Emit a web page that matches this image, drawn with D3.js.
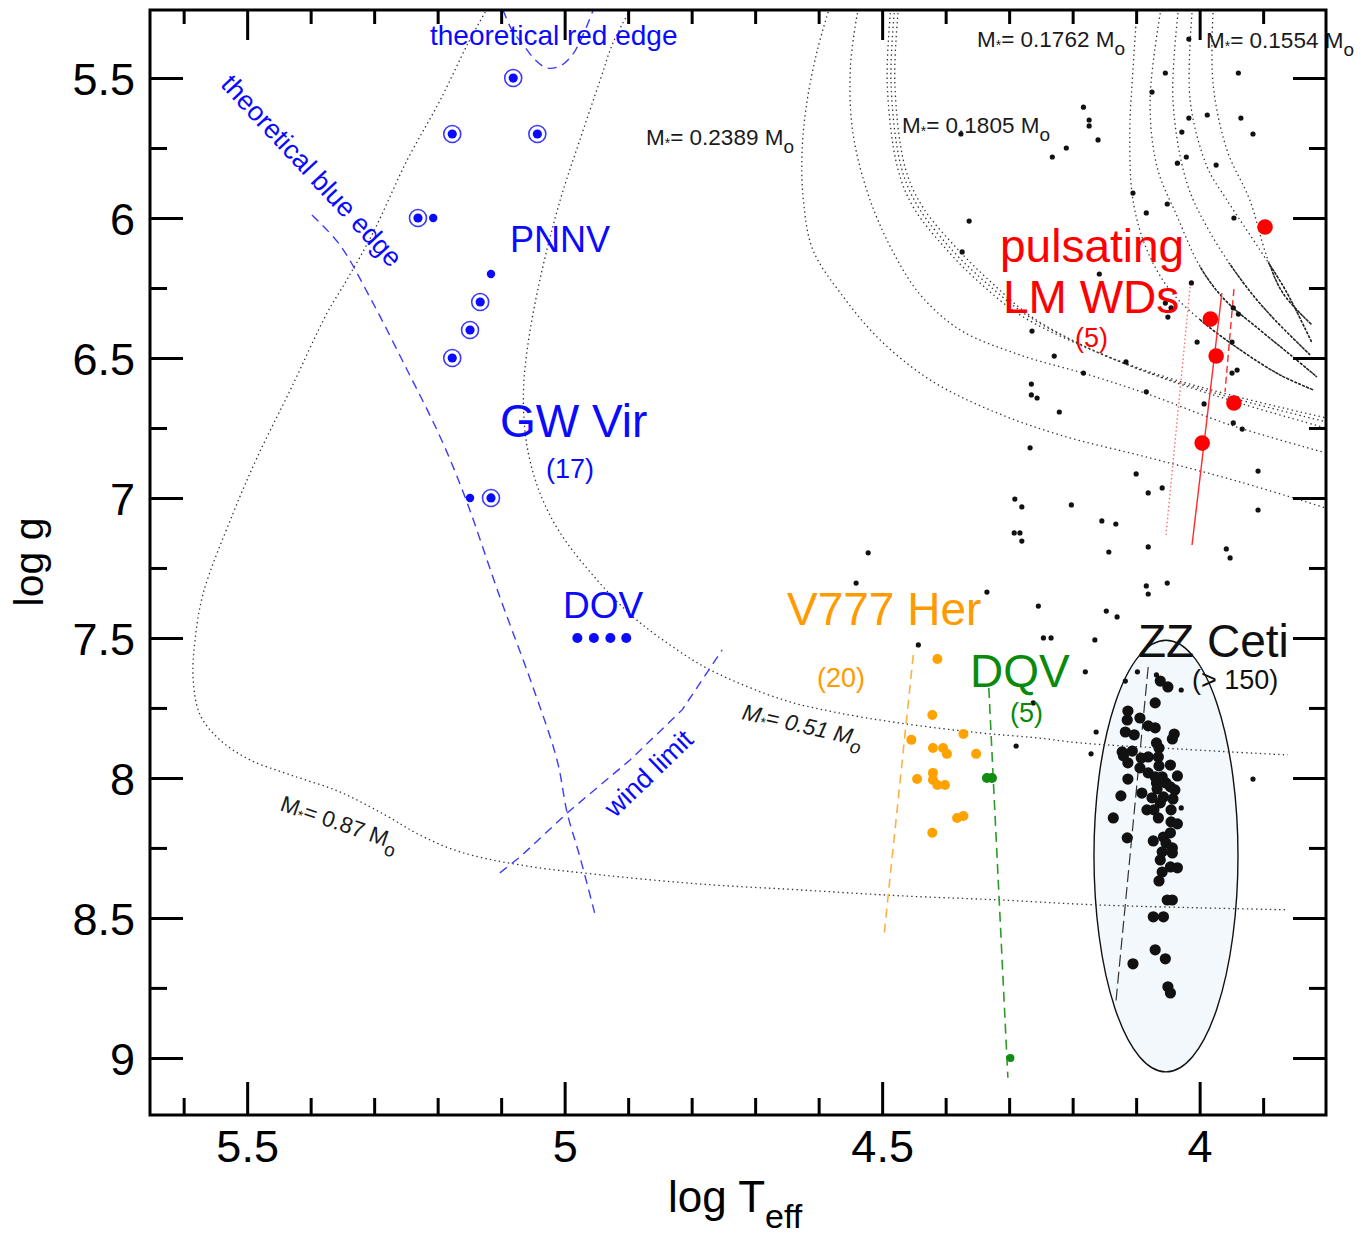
<!DOCTYPE html>
<html>
<head>
<meta charset="utf-8">
<script src="https://cdn.jsdelivr.net/npm/d3@7"></script>
<style>
  body { margin: 0; background: #fff; }
  svg { display: block; }
  text { font-family: "Liberation Sans", Arial, Helvetica, sans-serif; }
</style>
</head>
<body>
<svg id="chart" width="1364" height="1236"></svg>
<script>
// ---------- axes ----------
const xTicksMajor = [5.5, 5, 4.5, 4];
const xTickLabels = ["5.5", "5", "4.5", "4"];
const xTicksMinor = [5.6, 5.4, 5.3, 5.2, 5.1, 4.9, 4.8, 4.7, 4.6, 4.4, 4.3, 4.2, 4.1, 3.9];
const yTicksMajor = [5.5, 6, 6.5, 7, 7.5, 8, 8.5, 9];
const yTickLabels = ["5.5", "6", "6.5", "7", "7.5", "8", "8.5", "9"];
const yTicksMinor = [5.75, 6.25, 6.75, 7.25, 7.75, 8.25, 8.75];

// ---------- observed stars: [log Teff, log g] ----------
// GW Vir stars, PNNV with ring marker
const gwvirRinged = [[5.081,5.50],[5.177,5.70],[5.043,5.70],[5.231,6.00],[5.133,6.30],[5.149,6.40],[5.177,6.50],[5.116,7.00]];
const gwvirPlain = [[5.207,6.00],[5.116,6.20],[5.149,7.00]];
const dovStars = [[4.980,7.50],[4.954,7.50],[4.928,7.50],[4.903,7.50]];
// pulsating low-mass white dwarfs
const lmwdStars = [[3.897,6.032],[3.983,6.361],[3.974,6.493],[3.946,6.661],[3.996,6.804]];
// V777 Her (DBV)
const v777Stars = [[4.413,7.575],[4.421,7.775],[4.454,7.864],[4.372,7.843],[4.420,7.893],[4.404,7.893],[4.398,7.914],[4.352,7.914],
  [4.445,8.004],[4.420,7.982],[4.420,8.007],[4.413,8.025],[4.401,8.025],[4.382,8.143],[4.372,8.136],[4.421,8.196]];
// DQV
const dqvStars = [[4.335,8.00],[4.327,8.00],[4.298,9.00]];
// ZZ Ceti (DAV)
const zzcetiStars = [[4.062,7.654],[4.050,7.675],[4.070,7.732],[4.113,7.761],[4.094,7.786],[4.114,7.793],[4.081,7.814],[4.070,7.821],
  [4.117,7.836],[4.103,7.846],[4.040,7.843],[4.043,7.861],[4.068,7.875],[4.064,7.893],[4.122,7.907],[4.106,7.904],[4.120,7.921],
  [4.113,7.946],[4.092,7.929],[4.081,7.925],[4.065,7.925],[4.094,7.964],[4.064,7.957],[4.046,7.954],[4.081,7.982],[4.113,8.004],
  [4.070,7.996],[4.059,7.996],[4.035,7.993],[4.068,8.018],[4.053,8.018],[4.067,8.039],[4.046,8.032],[4.091,8.054],[4.039,8.043],
  [4.124,8.064],[4.075,8.071],[4.057,8.068],[4.042,8.075],[4.062,8.089],[4.083,8.114],[4.072,8.114],[4.045,8.114],[4.065,8.143],
  [4.136,8.143],[4.045,8.157],[4.035,8.164],[4.046,8.196],[4.057,8.211],[4.114,8.214],[4.073,8.225],[4.053,8.232],[4.043,8.250],
  [4.059,8.264],[4.043,8.268],[4.062,8.293],[4.046,8.318],[4.035,8.321],[4.059,8.336],[4.064,8.368],[4.051,8.436],[4.043,8.436],
  [4.073,8.496],[4.057,8.496],[4.070,8.614],[4.054,8.646],[4.105,8.664],[4.050,8.746],[4.046,8.768]];
// non-variable white dwarfs (small dots)
const otherStars = [[4.017,5.361],[4.054,5.482],[3.939,5.482],[4.075,5.550],[4.183,5.604],[4.174,5.650],[4.174,5.671],[4.017,5.643],
  [3.988,5.632],[3.935,5.643],[4.028,5.693],[3.916,5.700],[4.376,5.700],[4.160,5.721],[4.210,5.750],[4.232,5.782],[4.021,5.782],
  [4.035,5.804],[3.974,5.811],[4.105,5.911],[4.051,5.950],[4.084,5.982],[3.946,6.000],[4.363,6.011],[4.374,6.121],[4.158,6.200],
  [4.013,6.232],[4.054,6.304],[4.045,6.321],[4.050,6.354],[4.264,6.404],[4.004,6.443],[3.949,6.443],[3.947,6.321],[3.939,6.343],
  [4.229,6.493],[4.116,6.514],[4.183,6.554],[3.949,6.554],[3.941,6.543],[4.265,6.593],[4.084,6.621],[4.265,6.632],[4.256,6.643],
  [3.993,6.664],[4.221,6.693],[3.947,6.732],[3.933,6.754],[4.267,6.821],[4.100,6.914],[3.908,6.904],[4.059,6.964],[4.081,6.982],
  [4.291,7.004],[4.280,7.032],[4.202,7.025],[3.908,7.043],[4.154,7.082],[4.132,7.093],[4.292,7.125],[4.283,7.125],[4.280,7.154],
  [4.081,7.175],[3.958,7.182],[3.952,7.214],[4.143,7.193],[4.084,7.314],[4.081,7.343],[4.051,7.304],[4.335,7.336],[4.254,7.386],
  [4.147,7.404],[4.130,7.425],[4.246,7.500],[4.234,7.500],[4.522,7.196],[4.541,7.304],[4.443,7.525],[4.262,7.732],[4.289,7.886],
  [4.165,7.507],[4.180,7.621],[4.163,7.836],[4.171,7.914],[3.916,8.004],
  [4.098,7.621],[4.117,7.654],[4.068,7.632],[4.029,7.686],[4.029,8.107]];

// ---------- evolutionary tracks ----------
const track087 = [[5.125,5.264],[5.152,5.375],[5.196,5.579],[5.248,5.793],[5.302,6.054],[5.343,6.221],[5.374,6.339],[5.432,6.614],
  [5.484,6.854],[5.522,7.054],[5.569,7.339],[5.582,7.507],[5.585,7.650],[5.574,7.775],[5.543,7.864],[5.495,7.936],[5.432,7.989],
  [5.354,8.050],[5.283,8.132],[5.228,8.204],[5.165,8.264],[5.070,8.311],[4.944,8.346],[4.787,8.379],[4.629,8.400],[4.472,8.421],
  [4.314,8.436],[4.157,8.454],[3.999,8.464],[3.861,8.471]];
const track051 = [[4.897,5.257],[4.924,5.375],[4.944,5.507],[4.976,5.721],[5.007,5.936],[5.039,6.221],[5.059,6.471],[5.065,6.639],
  [5.059,6.818],[5.039,6.982],[5.007,7.125],[4.949,7.293],[4.892,7.425],[4.834,7.525],[4.771,7.614],[4.656,7.721],[4.577,7.764],
  [4.472,7.804],[4.346,7.839],[4.256,7.857],[4.188,7.875],[4.062,7.893],[3.861,7.918]];
const track02389 = [[4.585,5.264],[4.602,5.400],[4.618,5.579],[4.626,5.757],[4.624,5.936],[4.609,6.114],[4.561,6.282],[4.503,6.436],
  [4.424,6.579],[4.330,6.686],[4.220,6.775],[4.078,6.857],[3.936,6.943],[3.801,7.036]];
const track0210 = [[4.539,5.268],[4.550,5.461],[4.546,5.696],[4.519,5.936],[4.476,6.150],[4.437,6.282],[4.377,6.400],[4.283,6.489],
  [4.173,6.561],[4.078,6.632],[3.952,6.739],[3.801,6.839]];
const track01805a = [[4.487,5.268],[4.492,5.518],[4.476,5.818],[4.451,5.961],[4.398,6.114],[4.346,6.232],[4.283,6.346],[4.188,6.454],
  [4.078,6.550],[3.952,6.632],[3.801,6.714]];
const track01805b = [[4.481,5.268],[4.486,5.518],[4.470,5.818],[4.443,5.961],[4.390,6.114],[4.336,6.232],[4.273,6.346],[4.179,6.461],
  [4.069,6.561],[3.943,6.646],[3.801,6.728]];
const track01805c = [[4.475,5.268],[4.480,5.518],[4.464,5.818],[4.436,5.961],[4.380,6.114],[4.327,6.232],[4.264,6.354],[4.169,6.471],
  [4.059,6.571],[3.933,6.664],[3.801,6.750]];
const track01762 = [[4.099,5.268],[4.106,5.507],[4.110,5.696],[4.105,5.936],[4.083,6.114],[4.047,6.257],[3.999,6.364],[3.936,6.471],
  [3.873,6.561],[3.821,6.614]];
const track01706 = [[4.062,5.268],[4.078,5.579],[4.067,5.818],[4.035,5.996],[3.999,6.175],[3.960,6.293],[3.905,6.400],[3.857,6.489],
  [3.815,6.568]];
const track01612 = [[4.034,5.268],[4.042,5.579],[4.020,5.875],[3.983,6.054],[3.931,6.232],[3.889,6.346],[3.826,6.489]];
const track01554 = [[4.012,5.268],[4.015,5.579],[3.988,5.818],[3.957,5.936],[3.905,6.114],[3.865,6.257],[3.823,6.446]];
const track01505 = [[3.979,5.268],[3.979,5.518],[3.957,5.757],[3.921,5.936],[3.894,6.139],[3.869,6.268],[3.823,6.382]];

// ---------- instability boundaries ----------
const blueEdge = [[5.398,5.989],[5.354,6.096],[5.306,6.286],[5.248,6.543],[5.196,6.782],[5.157,6.996],[5.102,7.354],[5.050,7.675],
  [5.012,7.936],[4.996,8.125],[4.976,8.282],[4.952,8.489]];
const redEdge = [[5.097,5.257],[5.083,5.329],[5.065,5.382],[5.046,5.436],[5.028,5.464],[5.007,5.457],[4.988,5.418],[4.971,5.346],[4.955,5.257]];
const windLimit = [[5.102,8.339],[5.070,8.282],[4.996,8.125],[4.897,7.936],[4.815,7.757],[4.752,7.543]];
const lmwdEdgeSolid = [[3.965,6.268],[4.012,7.168]];
const lmwdEdgeDashed = [[3.946,6.254],[3.960,6.621]];
const lmwdEdgeDotted = [[4.015,6.246],[4.053,7.132]];
const dbvEdge = [[4.451,7.561],[4.497,8.561]];
const dqvEdge = [[4.332,7.679],[4.302,9.071]];
const zzcetiEdge = [[4.081,7.604],[4.132,8.804]];
// ZZ Ceti instability region: centre and semi-axes in (log Teff, log g)
const zzRegion = { teff: 4.053, logg: 8.279, dTeff: 0.1134, dLogg: 0.771 };

// ---------- layout ----------
const svg = d3.select("#chart");
const x = d3.scaleLinear().domain([5.653, 3.801]).range([150, 1326]);
const y = d3.scaleLinear().domain([5.257, 9.204]).range([10, 1115]);
const line = d3.line().x(d => x(d[0])).y(d => y(d[1]));
const curve = d3.line().x(d => x(d[0])).y(d => y(d[1])).curve(d3.curveCatmullRom.alpha(0.5));

const BLUE = "#0a0aff", BLUE_LINE = "#3a3aff", RED = "#ff0000", ORANGE = "#ff9a00", GREEN = "#0a8a0a";

// ZZ Ceti region
svg.append("ellipse")
  .attr("cx", x(zzRegion.teff)).attr("cy", y(zzRegion.logg))
  .attr("rx", Math.abs(x(zzRegion.teff - zzRegion.dTeff) - x(zzRegion.teff)))
  .attr("ry", Math.abs(y(zzRegion.logg + zzRegion.dLogg) - y(zzRegion.logg)))
  .attr("fill", "#f3f8fd").attr("stroke", "#111").attr("stroke-width", 1.4);

// evolutionary tracks (dotted)
const tracks = [track087, track051, track02389, track0210, track01805a, track01805b, track01805c,
  track01762, track01706, track01612, track01554, track01505];
svg.append("g").selectAll("path").data(tracks).join("path")
  .attr("d", curve).attr("fill", "none").attr("stroke", "#333")
  .attr("stroke-width", 1.3).attr("stroke-dasharray", "1.4 3.2");

// final cooling branches of the lowest-mass tracks are densely sampled: darker there
svg.append("clipPath").attr("id", "coolClip").append("rect")
  .attr("x", x(4.0)).attr("y", y(6.16)).attr("width", x(3.801) - x(4.0)).attr("height", y(6.62) - y(6.16));
svg.append("g").attr("clip-path", "url(#coolClip)").selectAll("path")
  .data([track01762, track01706, track01612, track01554, track01505]).join("path")
  .attr("d", curve).attr("fill", "none").attr("stroke", "#222")
  .attr("stroke-width", 1.5).attr("stroke-dasharray", "3 1.2");

// instability strip boundaries
function edge(data, color, dash, width) {
  svg.append("path").attr("d", curve(data)).attr("fill", "none")
    .attr("stroke", color).attr("stroke-width", width || 1.4)
    .attr("stroke-dasharray", dash || null);
}
edge(blueEdge, BLUE_LINE, "9 6");
edge(redEdge, BLUE_LINE, "9 6");
svg.append("path").attr("d", line(windLimit)).attr("fill", "none")
  .attr("stroke", BLUE_LINE).attr("stroke-width", 1.4).attr("stroke-dasharray", "9 6");
edge(lmwdEdgeSolid, "#ff2a2a", null, 1.4);
edge(lmwdEdgeDashed, "#ff2a2a", "7 4", 1.4);
edge(lmwdEdgeDotted, "#ff7070", "1.5 2.5", 1.4);
edge(dbvEdge, "#ffb040", "9 6", 1.6);
edge(dqvEdge, "#2a9a2a", "10 6", 1.6);
edge(zzcetiEdge, "#333", "12 5", 1.2);

// stars
function stars(data, r, color) {
  svg.append("g").selectAll("circle").data(data).join("circle")
    .attr("cx", d => x(d[0])).attr("cy", d => y(d[1])).attr("r", r).attr("fill", color);
}
stars(otherStars, 2.6, "#111");
svg.append("g").selectAll("circle").data(gwvirRinged).join("circle")
  .attr("cx", d => x(d[0])).attr("cy", d => y(d[1])).attr("r", 8.5)
  .attr("fill", "#fff").attr("stroke", BLUE_LINE).attr("stroke-width", 1.6);
stars(gwvirRinged, 4.6, BLUE);
stars(gwvirPlain, 4.2, BLUE);
stars(dovStars, 5, BLUE);
stars(v777Stars, 5, "#ffa200");
stars(dqvStars.slice(0, 2), 5, "#118c11");
stars(dqvStars.slice(2), 4, "#118c11");
stars(zzcetiStars, 5.6, "#111");
stars(lmwdStars, 7.8, RED);

// annotations
function label(txt, px, py, size, color, opts) {
  opts = opts || {};
  const t = svg.append("text").attr("font-size", size).attr("fill", color)
    .attr("text-anchor", opts.anchor || "start");
  if (opts.rotate !== undefined) t.attr("transform", `translate(${px},${py}) rotate(${opts.rotate})`);
  else t.attr("x", px).attr("y", py);
  if (opts.italic) t.attr("font-style", "italic");
  t.text(txt);
  return t;
}
label("theoretical red edge", 430, 45, 28, BLUE);
label("theoretical blue edge", 305, 177, 27, BLUE, { rotate: 47, anchor: "middle" });
label("PNNV", 510, 252, 36, BLUE);
label("GW Vir", 500, 437, 46, BLUE);
label("(17)", 546, 478, 27, BLUE);
label("DOV", 563, 618, 37, BLUE);
label("wind limit", 655, 780, 27, BLUE, { rotate: -44, anchor: "middle" });
label("V777 Her", 787, 625, 46, ORANGE);
label("(20)", 817, 687, 27, ORANGE);
label("DQV", 970, 687, 46, GREEN);
label("(5)", 1010, 722, 27, GREEN);
label("ZZ Ceti", 1138, 657, 46, "#111");
label("(> 150)", 1192, 689, 27, "#111");
label("pulsating", 1000, 262, 46, RED);
label("LM WDs", 1003, 313, 46, RED);
label("(5)", 1075, 347, 27, RED);

// stellar mass labels
function massLabel(value, px, py, opts) {
  opts = opts || {};
  const t = svg.append("text").attr("font-size", 22.5).attr("fill", "#1a1a1a");
  if (opts.rotate !== undefined) t.attr("transform", `translate(${px},${py}) rotate(${opts.rotate})`);
  else t.attr("x", px).attr("y", py);
  if (opts.italic) t.attr("font-style", "italic");
  t.append("tspan").text("M");
  t.append("tspan").attr("font-size", 14).attr("dy", 3).text("*");
  t.append("tspan").attr("dy", -3).text("= " + value + " M");
  t.append("tspan").attr("font-size", 19).attr("dy", 8).text("o");
}
massLabel("0.2389", 646, 145);
massLabel("0.1805", 902, 133);
massLabel("0.1762", 977, 47);
massLabel("0.1554", 1206, 48);
massLabel("0.51", 741, 719, { rotate: 13, italic: true });
massLabel("0.87", 279, 810, { rotate: 19 });

// axes with inward ticks on all four sides
function styleAxis(g) {
  g.select(".domain").remove();
  g.selectAll(".tick line").attr("stroke", "#000").attr("stroke-width", 3);
  g.selectAll(".tick text").attr("fill", "#000").attr("font-size", 45)
    .attr("font-family", '"Liberation Sans", Arial, sans-serif');
}
const noLabel = () => "";
svg.append("g").attr("transform", "translate(0,1115)")
  .call(d3.axisBottom(x).tickValues(xTicksMajor).tickSize(-33).tickPadding(15).tickFormat((d, i) => xTickLabels[i]))
  .call(styleAxis);
svg.append("g").attr("transform", "translate(0,1115)")
  .call(d3.axisBottom(x).tickValues(xTicksMinor).tickSize(-17).tickFormat(noLabel)).call(styleAxis);
svg.append("g").attr("transform", "translate(0,10)")
  .call(d3.axisTop(x).tickValues(xTicksMajor).tickSize(-30).tickFormat(noLabel)).call(styleAxis);
svg.append("g").attr("transform", "translate(0,10)")
  .call(d3.axisTop(x).tickValues(xTicksMinor).tickSize(-14).tickFormat(noLabel)).call(styleAxis);
const left = svg.append("g").attr("transform", "translate(150,0)")
  .call(d3.axisLeft(y).tickValues(yTicksMajor).tickSize(-33).tickPadding(15).tickFormat((d, i) => yTickLabels[i]))
  .call(styleAxis);
left.selectAll(".tick text").attr("dy", "0.36em");
svg.append("g").attr("transform", "translate(150,0)")
  .call(d3.axisLeft(y).tickValues(yTicksMinor).tickSize(-17).tickFormat(noLabel)).call(styleAxis);
svg.append("g").attr("transform", "translate(1326,0)")
  .call(d3.axisRight(y).tickValues(yTicksMajor).tickSize(-33).tickFormat(noLabel)).call(styleAxis);
svg.append("g").attr("transform", "translate(1326,0)")
  .call(d3.axisRight(y).tickValues(yTicksMinor).tickSize(-17).tickFormat(noLabel)).call(styleAxis);

// frame
svg.append("rect").attr("x", 150).attr("y", 10).attr("width", 1176).attr("height", 1105)
  .attr("fill", "none").attr("stroke", "#000").attr("stroke-width", 3);

// axis titles
const xt = svg.append("text").attr("x", 668).attr("y", 1212).attr("font-size", 44).attr("fill", "#000");
xt.append("tspan").text("log T");
xt.append("tspan").attr("font-size", 34).attr("dy", 16).text("eff");
svg.append("text").attr("transform", "translate(43,562) rotate(-90)").attr("text-anchor", "middle")
  .attr("font-size", 41).attr("fill", "#000").text("log g");
</script>
</body>
</html>
